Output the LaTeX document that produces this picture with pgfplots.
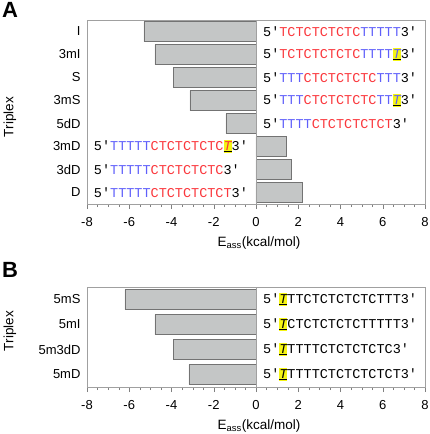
\documentclass[border=0pt]{standalone}
\usepackage{pgfplots}
\pgfplotsset{compat=1.18}
\usepackage{pgfplotstable}
\usepackage{fontspec}
\setmainfont{Liberation Sans}
\newfontfamily\seqfont{Liberation Mono}
\definecolor{sr}{RGB}{250,55,60}
\definecolor{sb}{RGB}{95,95,250}
\definecolor{hl}{RGB}{245,245,20}
\definecolor{framec}{RGB}{160,160,160}
\definecolor{barfill}{RGB}{196,198,198}
\definecolor{barline}{RGB}{115,115,115}
\newcommand\R[1]{\textcolor{sr}{#1}}
\newcommand\B[1]{\textcolor{sb}{#1}}
\newcommand\hT[1][black]{\makebox[0pt][l]{\textcolor{hl}{\rule[-3pt]{8pt}{13pt}}}\underline{\textit{\textcolor{#1}{T}}}}
\newcommand\pr{\char"2032}
\pgfplotstableread{
y x
1 -5.31
2 -4.79
3 -3.92
4 -3.13
5 -1.42
6 1.41
7 1.69
8 2.17
}\dataA
\pgfplotstableread{
y x
1 -6.21
2 -4.79
3 -3.92
4 -3.18
}\dataB
\pgfplotsset{
  myax/.style={
    scale only axis, width=338pt,
    xmin=-8, xmax=8,
    xtick={-8,-6,...,8}, minor x tick num=3,
    xtick pos=bottom, tick align=outside,
    major tick length=5pt, minor tick length=3pt,
    x tick style={draw=framec!80!black},
    y dir=reverse, ytick style={draw=none},
    axis line style={draw=framec, line width=0.8pt},
    tick label style={font=\fontsize{13}{15}\selectfont},
    /pgf/number format/assume math mode=true,
    yticklabel style={xshift=2pt},
    xticklabel style={yshift=-5pt},
    clip=false,
  },
}
\tikzset{seq/.style={anchor=west, inner sep=0pt, font=\seqfont\fontsize{13.5}{15}\selectfont}}
\begin{document}
\begin{tikzpicture}
\useasboundingbox (0,0) rectangle (429pt,-434pt);
% Panel A
\node[anchor=north west, inner sep=0, font=\bfseries\fontsize{22}{23}\selectfont] at (2pt,-2pt) {A};
\begin{axis}[myax, at={(87pt,-204pt)}, anchor=south west, height=184pt,
  ymin=0.5, ymax=8.5, ytick={1,...,8},
  yticklabels={I,3mI,S,3mS,5dD,3mD,3dD,D}]
\addplot[xbar, bar width=20pt, fill=barfill, draw=barline] table[x=x, y=y] {\dataA};
\addplot[framec, line width=0.8pt, mark=none] coordinates {(0,0.5) (0,8.5)};
\node[seq] at (axis cs:0.33,1) {5\pr\R{TCTCTCTCTC}\B{TTTTT}3\pr};
\node[seq] at (axis cs:0.33,2) {5\pr\R{TCTCTCTCTC}\B{TTTT}\hT[sb]3\pr};
\node[seq] at (axis cs:0.33,3) {5\pr\B{TTT}\R{CTCTCTCTC}\B{TTT}3\pr};
\node[seq] at (axis cs:0.33,4) {5\pr\B{TTT}\R{CTCTCTCTC}\B{TT}\hT[sb]3\pr};
\node[seq] at (axis cs:0.33,5) {5\pr\B{TTTT}\R{CTCTCTCTCT}3\pr};
\node[seq] at (axis cs:-7.68,6) {5\pr\B{TTTTT}\R{CTCTCTCTC}\hT[sr]3\pr};
\node[seq] at (axis cs:-7.68,7) {5\pr\B{TTTTT}\R{CTCTCTCTC}3\pr};
\node[seq] at (axis cs:-7.68,8) {5\pr\B{TTTTT}\R{CTCTCTCTCT}3\pr};
\end{axis}
\node[rotate=90, font=\fontsize{13.5}{15}\selectfont] at (10pt,-117pt) {Triplex};
\node[font=\fontsize{13.5}{15}\selectfont] at (259pt,-243pt) {E\textsubscript{ass}(kcal/mol)};
% Panel B
\node[anchor=north west, inner sep=0, font=\bfseries\fontsize{22}{23}\selectfont] at (2pt,-262pt) {B};
\begin{axis}[myax, at={(87pt,-387pt)}, anchor=south west, height=100pt,
  ymin=0.5, ymax=4.5, ytick={1,...,4},
  yticklabels={5mS,5mI,5m3dD,5mD}]
\addplot[xbar, bar width=20pt, fill=barfill, draw=barline] table[x=x, y=y] {\dataB};
\addplot[framec, line width=0.8pt, mark=none] coordinates {(0,0.5) (0,4.5)};
\node[seq] at (axis cs:0.33,1) {5\pr\hT TTCTCTCTCTCTTT3\pr};
\node[seq] at (axis cs:0.33,2) {5\pr\hT CTCTCTCTCTTTTT3\pr};
\node[seq] at (axis cs:0.33,3) {5\pr\hT TTTTCTCTCTCTC3\pr};
\node[seq] at (axis cs:0.33,4) {5\pr\hT TTTTCTCTCTCTCT3\pr};
\end{axis}
\node[rotate=90, font=\fontsize{13.5}{15}\selectfont] at (10pt,-331pt) {Triplex};
\node[font=\fontsize{13.5}{15}\selectfont] at (259pt,-426pt) {E\textsubscript{ass}(kcal/mol)};
\end{tikzpicture}
\end{document}
